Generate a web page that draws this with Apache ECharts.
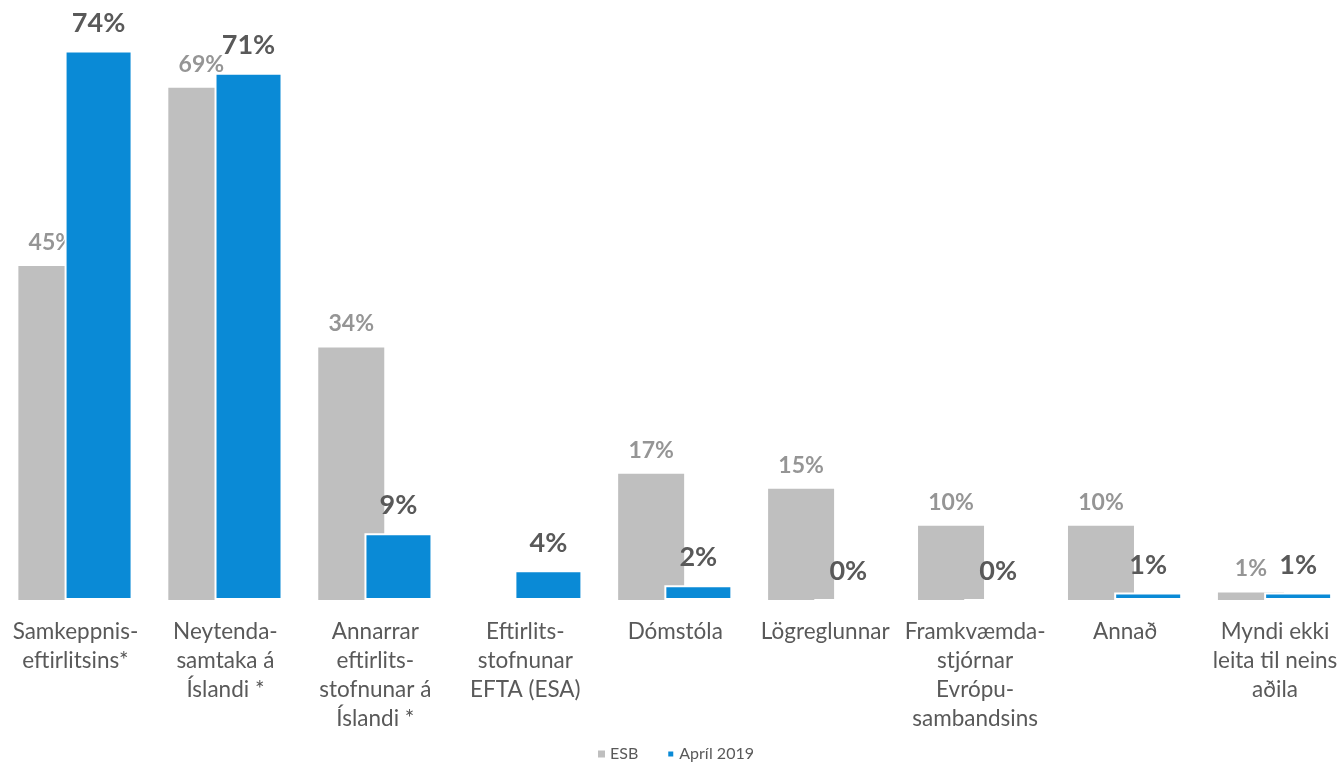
<!DOCTYPE html>
<html>
<head>
<meta charset="utf-8">
<style>
  html, body { margin: 0; padding: 0; background: #fff; overflow: hidden; }
  /* the plot is a little wider than the window, so the last category runs off the right edge */
  #chart { width: 1350px; height: 766px; }
</style>
<script src="https://cdn.jsdelivr.net/npm/echarts@6/dist/echarts.min.js"></script>
</head>
<body>
<div id="chart"></div>
<script>
// Hvert fólk myndi leita: samanburður ESB og könnunar í apríl 2019
const categories = [
  'Samkeppnis-\neftirlitsins*',
  'Neytenda-\nsamtaka á\nÍslandi *',
  'Annarrar\neftirlits-\nstofnunar á\nÍslandi *',
  'Eftirlits-\nstofnunar\nEFTA (ESA)',
  'Dómstóla',
  'Lögreglunnar',
  'Framkvæmda-\nstjórnar\nEvrópu-\nsambandsins',
  'Annað',
  'Myndi ekki\nleita til neins\naðila'
];
const seriesNames = ['ESB', 'Apríl 2019'];
const esbValues = [45, 69, 34, '-', 17, 15, 10, 10, 1];
const aprilValues = [74, 71, 9, 4, 2, 0, 0, 1, 1];

const FONT = 'Lato, "Open Sans", sans-serif';
const GREY = '#bfbfbf';
const BLUE = '#0a8ad6';

const chart = echarts.init(document.getElementById('chart'), null, { renderer: 'canvas' });

chart.setOption({
  animation: false,
  backgroundColor: '#ffffff',
  textStyle: { fontFamily: FONT },
  grid: { left: 0.5, top: 6, right: 0, bottom: 166, containLabel: false },
  legend: {
    bottom: -1,
    left: 593,
    icon: 'rect',
    itemWidth: 7,
    itemHeight: 7,
    itemGap: 28,
    textStyle: { fontFamily: FONT, fontSize: 16, color: '#595959' },
    data: seriesNames
  },
  xAxis: {
    type: 'category',
    data: categories,
    axisLine: { show: false },
    axisTick: { show: false },
    axisLabel: {
      interval: 0,
      margin: 17,
      fontFamily: FONT,
      fontSize: 22.5,
      lineHeight: 29,
      color: '#595959',
      align: 'center'
    }
  },
  yAxis: {
    type: 'value',
    min: 0,
    max: 80,
    show: false,
    splitLine: { show: false }
  },
  series: [
    {
      name: seriesNames[0],
      type: 'bar',
      data: esbValues,
      barWidth: 66,
      barGap: '-30%',
      itemStyle: { color: GREY },
      label: {
        show: true,
        position: 'top',
        distance: 12,
        formatter: '{c}%',
        fontFamily: FONT,
        fontSize: 23,
        fontWeight: 'bold',
        color: '#959595'
      },
      z: 2
    },
    {
      name: seriesNames[1],
      type: 'bar',
      data: aprilValues,
      barWidth: 68,
      itemStyle: { color: BLUE, borderColor: '#ffffff', borderWidth: 2 },
      label: {
        show: true,
        position: 'top',
        distance: 14,
        formatter: '{c}%',
        fontFamily: FONT,
        fontSize: 27,
        fontWeight: 'bold',
        color: '#595959'
      },
      z: 3
    }
  ]
});
</script>
</body>
</html>
